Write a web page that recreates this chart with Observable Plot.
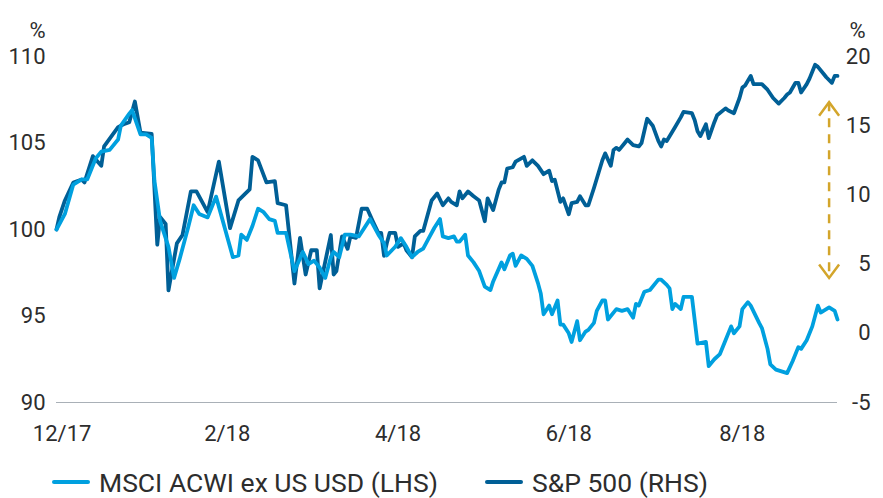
<!DOCTYPE html>
<html><head><meta charset="utf-8">
<script src="https://cdn.jsdelivr.net/npm/d3@7"></script>
<script src="https://cdn.jsdelivr.net/npm/@observablehq/plot@0.6"></script>
<style>
html,body{margin:0;padding:0;background:#fff;}
body{width:883px;height:498px;overflow:hidden;font-family:Roboto,"Noto Sans",sans-serif;}
#legend{height:64px;display:flex;align-items:center;padding-left:52px;font-size:26.5px;color:#2d2d2d;}
.item{display:flex;align-items:center;margin-right:47px;white-space:nowrap;}
.sw{width:38px;height:4px;border-radius:2px;margin-right:9px;}
</style></head><body>
<div id="chart"></div>
<div id="legend"></div>
<script>
// ---- data ----
const seriesNames = ["MSCI ACWI ex US USD (LHS)", "S&P 500 (RHS)"];
const seriesColors = ["#00a0df", "#005f96"];

const msciDates = ["2017-12-29","2018-01-01","2018-01-04","2018-01-07","2018-01-09","2018-01-12","2018-01-14","2018-01-17","2018-01-20","2018-01-21","2018-01-24","2018-01-25","2018-01-28","2018-01-30","2018-02-01","2018-02-02","2018-02-04","2018-02-07","2018-02-09","2018-02-11","2018-02-14","2018-02-16","2018-02-18","2018-02-21","2018-02-24","2018-03-02","2018-03-04","2018-03-05","2018-03-07","2018-03-09","2018-03-11","2018-03-13","2018-03-15","2018-03-17","2018-03-18","2018-03-21","2018-03-24","2018-03-27","2018-03-29","2018-03-31","2018-04-02","2018-04-04","2018-04-06","2018-04-07","2018-04-09","2018-04-11","2018-04-13","2018-04-16","2018-04-20","2018-04-23","2018-04-25","2018-04-26","2018-04-29","2018-05-01","2018-05-03","2018-05-05","2018-05-07","2018-05-09","2018-05-11","2018-05-13","2018-05-15","2018-05-16","2018-05-18","2018-05-20","2018-05-21","2018-05-22","2018-05-24","2018-05-25","2018-05-27","2018-05-29","2018-05-31","2018-06-02","2018-06-03","2018-06-06","2018-06-07","2018-06-09","2018-06-10","2018-06-11","2018-06-13","2018-06-15","2018-06-17","2018-06-19","2018-06-20","2018-06-21","2018-06-23","2018-06-24","2018-06-26","2018-06-27","2018-06-28","2018-06-30","2018-07-01","2018-07-03","2018-07-04","2018-07-06","2018-07-07","2018-07-09","2018-07-10","2018-07-12","2018-07-13","2018-07-14","2018-07-17","2018-07-19","2018-07-21","2018-07-23","2018-07-24","2018-07-25","2018-07-27","2018-07-29","2018-08-01","2018-08-02","2018-08-04","2018-08-05","2018-08-06","2018-08-07","2018-08-09","2018-08-10","2018-08-13","2018-08-15","2018-08-18","2018-08-19","2018-08-21","2018-08-23","2018-08-25","2018-08-27","2018-08-28","2018-08-30","2018-08-31","2018-09-02","2018-09-03","2018-09-06","2018-09-07","2018-09-09","2018-09-10","2018-09-12","2018-09-14","2018-09-16","2018-09-18","2018-09-20","2018-09-21","2018-09-23","2018-09-25","2018-09-27","2018-09-28","2018-10-01","2018-10-03","2018-10-04"];
const msciValues = [100.0,100.9,102.6,102.9,102.9,104.1,104.5,104.6,105.2,106.0,106.7,106.9,105.5,105.5,105.3,102.8,100.5,99.0,97.2,98.3,100.1,101.4,100.9,100.7,101.9,98.4,98.5,99.7,99.4,100.2,101.2,101.0,100.6,100.5,99.8,99.8,97.6,98.7,98.0,98.2,97.8,97.2,98.4,98.7,98.4,99.7,99.7,99.6,100.6,99.7,99.2,98.5,99.0,99.5,99.0,98.4,98.7,98.9,99.5,100.1,100.6,99.6,99.5,99.6,99.3,99.3,99.7,98.5,98.1,97.6,96.7,96.5,97.0,98.1,97.7,98.5,98.6,97.9,98.5,98.3,97.9,96.9,96.3,95.1,95.6,95.1,95.9,94.5,94.5,94.0,93.5,94.7,93.6,94.1,94.2,94.6,95.3,95.9,95.9,94.8,95.4,95.3,95.4,94.9,95.7,95.6,96.4,96.5,97.1,97.1,96.8,96.6,95.4,95.7,95.4,96.1,96.1,93.4,93.5,92.1,92.5,92.8,93.6,94.4,94.0,94.4,95.4,95.8,95.6,94.6,94.3,93.1,92.2,91.9,91.8,91.7,92.4,93.2,93.1,93.6,94.4,95.6,95.2,95.5,95.3,94.8];

const spDates = ["2017-12-29","2017-12-30","2018-01-01","2018-01-04","2018-01-07","2018-01-08","2018-01-11","2018-01-14","2018-01-15","2018-01-20","2018-01-22","2018-01-24","2018-01-26","2018-01-28","2018-02-01","2018-02-03","2018-02-04","2018-02-06","2018-02-07","2018-02-10","2018-02-12","2018-02-15","2018-02-17","2018-02-21","2018-02-25","2018-03-01","2018-03-04","2018-03-06","2018-03-08","2018-03-09","2018-03-11","2018-03-14","2018-03-17","2018-03-18","2018-03-21","2018-03-24","2018-03-26","2018-03-28","2018-03-30","2018-04-01","2018-04-02","2018-04-06","2018-04-07","2018-04-08","2018-04-10","2018-04-12","2018-04-13","2018-04-15","2018-04-17","2018-04-19","2018-04-21","2018-04-23","2018-04-24","2018-04-25","2018-04-26","2018-04-27","2018-04-29","2018-04-30","2018-05-02","2018-05-03","2018-05-05","2018-05-06","2018-05-08","2018-05-09","2018-05-12","2018-05-14","2018-05-16","2018-05-18","2018-05-19","2018-05-21","2018-05-22","2018-05-23","2018-05-25","2018-05-27","2018-05-29","2018-05-31","2018-06-01","2018-06-03","2018-06-05","2018-06-06","2018-06-07","2018-06-08","2018-06-10","2018-06-11","2018-06-14","2018-06-15","2018-06-17","2018-06-19","2018-06-21","2018-06-23","2018-06-24","2018-06-25","2018-06-27","2018-06-28","2018-06-30","2018-07-01","2018-07-03","2018-07-04","2018-07-06","2018-07-07","2018-07-09","2018-07-12","2018-07-13","2018-07-15","2018-07-16","2018-07-17","2018-07-18","2018-07-20","2018-07-21","2018-07-23","2018-07-25","2018-07-26","2018-07-28","2018-07-30","2018-08-01","2018-08-02","2018-08-03","2018-08-04","2018-08-07","2018-08-09","2018-08-10","2018-08-13","2018-08-14","2018-08-15","2018-08-16","2018-08-18","2018-08-19","2018-08-21","2018-08-22","2018-08-25","2018-08-26","2018-08-28","2018-08-30","2018-08-31","2018-09-01","2018-09-03","2018-09-04","2018-09-07","2018-09-09","2018-09-11","2018-09-13","2018-09-15","2018-09-16","2018-09-17","2018-09-19","2018-09-20","2018-09-21","2018-09-23","2018-09-24","2018-09-26","2018-09-27","2018-09-29","2018-09-30","2018-10-02","2018-10-03","2018-10-04"];
const spValues = [7.5,8.4,9.6,10.9,11.1,10.9,12.8,12.1,13.5,14.9,15.1,15.25,16.75,14.5,14.4,6.4,8.4,7.9,3.1,6.5,7.1,10.25,10.25,8.75,12.4,7.6,9.6,10.0,10.4,12.75,12.5,10.9,11.0,9.4,9.25,3.6,6.9,4.25,6.0,6.0,3.25,7.1,4.25,4.5,7.0,6.1,7.0,6.9,9.0,9.0,8.1,7.25,7.25,5.6,6.5,7.25,7.25,6.25,6.5,6.0,5.5,7.0,7.4,7.4,9.6,10.1,9.25,9.75,9.5,9.25,10.25,9.75,10.25,9.9,9.6,8.1,9.75,8.9,10.4,10.9,10.9,11.9,12.0,12.4,12.75,12.1,12.5,12.1,11.5,11.75,11.0,11.1,9.5,9.75,8.6,9.4,9.5,9.9,9.25,9.25,10.5,12.5,13.0,12.1,13.25,13.4,13.25,13.75,14.0,13.6,13.5,13.75,15.5,15.0,13.9,13.5,14.0,13.9,14.9,15.6,16.0,15.9,15.4,14.6,14.25,15.1,14.1,15.25,15.75,16.25,16.1,15.9,17.0,17.75,17.9,18.6,18.0,18.0,17.6,17.0,16.6,17.0,17.25,17.4,18.1,18.1,17.4,18.0,18.4,19.4,19.25,18.75,18.5,18.1,18.6,18.6];

const xDomain = ["2017-12-29", "2018-10-04"];
const xTickDates = ["2017-12-31","2018-02-28","2018-04-30","2018-06-30","2018-08-31"];
const xTickLabels = ["12/17","2/18","4/18","6/18","8/18"];
const leftTicks = [90, 95, 100, 105, 110];
const rightTicks = [-5, 0, 5, 10, 15, 20];
const leftDomain = [90, 110];
const rightDomain = [-5, 20];
const gapDate = "2018-10-01";
const gapTop = 16.7;     // RHS units
const gapBottom = 4.0;   // RHS units

// ---- build ----
const parse = d3.utcParse("%Y-%m-%d");
const toLeft = r => leftDomain[0] + (r - rightDomain[0]) * (leftDomain[1] - leftDomain[0]) / (rightDomain[1] - rightDomain[0]);
const fromLeft = v => rightDomain[0] + (v - leftDomain[0]) * (rightDomain[1] - rightDomain[0]) / (leftDomain[1] - leftDomain[0]);

const msci = msciDates.map((d, i) => ({date: parse(d), value: msciValues[i]}));
const sp = spDates.map((d, i) => ({date: parse(d), value: toLeft(spValues[i])}));
const tickLabelMap = new Map(xTickDates.map((d, i) => [+parse(d), xTickLabels[i]]));

const gold = "#d3a52b";
const gap = [{date: parse(gapDate), top: toLeft(gapTop), bottom: toLeft(gapBottom)}];

const chevron = {
  draw(context, size) {
    const r = Math.sqrt(size / Math.PI);
    context.moveTo(-r, r * 1.35);
    context.lineTo(0, 0);
    context.lineTo(r, r * 1.35);
  }
};

const chart = Plot.plot({
  width: 883,
  height: 450,
  marginTop: 56,
  marginBottom: 48,
  marginLeft: 56,
  marginRight: 46,
  style: {fontFamily: "Roboto, sans-serif", fontSize: "22px", color: "#2d2d2d", background: "white", overflow: "visible"},
  x: {type: "utc", domain: xDomain.map(parse)},
  y: {domain: leftDomain},
  marks: [
    Plot.ruleY([leftDomain[0]], {stroke: "#a9b0b7", strokeWidth: 1}),
    Plot.axisX(xTickDates.map(parse), {tickSize: 0, tickPadding: 23, tickFormat: d => tickLabelMap.get(+d)}),
    Plot.axisY(leftTicks, {anchor: "left", tickSize: 0, tickPadding: 11}),
    Plot.axisY(rightTicks.map(toLeft), {anchor: "right", tickSize: 0, tickPadding: 33, textAnchor: "end", tickFormat: v => String(Math.round(fromLeft(v)))}),
    Plot.text(["%"], {frameAnchor: "top-left", dx: -11, dy: -34, textAnchor: "end"}),
    Plot.text(["%"], {frameAnchor: "top-right", dx: 28, dy: -34, textAnchor: "end"}),
    Plot.line(sp, {x: "date", y: "value", stroke: seriesColors[1], strokeWidth: 3.8, strokeLinejoin: "round"}),
    Plot.line(msci, {x: "date", y: "value", stroke: seriesColors[0], strokeWidth: 3.8, strokeLinejoin: "round"}),
    Plot.link(gap, {x1: "date", x2: "date", y1: "top", y2: "bottom", stroke: gold, strokeWidth: 2.5, strokeDasharray: "9,7"}),
    Plot.dot(gap, {x: "date", y: "top", symbol: chevron, r: 10, fill: "none", stroke: gold, strokeWidth: 2.5}),
    Plot.dot(gap, {x: "date", y: "bottom", symbol: chevron, r: 10, rotate: 180, fill: "none", stroke: gold, strokeWidth: 2.5})
  ]
});
document.getElementById("chart").appendChild(chart);

const legend = document.getElementById("legend");
seriesNames.forEach((name, i) => {
  const item = document.createElement("div");
  item.className = "item";
  const sw = document.createElement("span");
  sw.className = "sw";
  sw.style.background = seriesColors[i];
  const label = document.createElement("span");
  label.textContent = name;
  item.appendChild(sw);
  item.appendChild(label);
  legend.appendChild(item);
});
</script>
</body></html>
